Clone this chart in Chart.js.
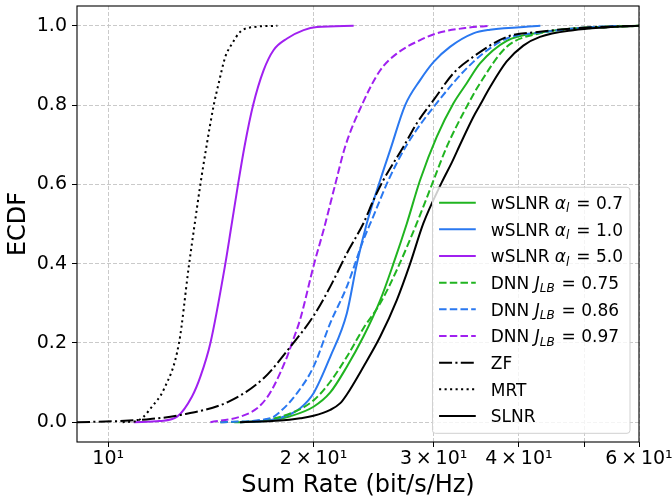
<!DOCTYPE html>
<html>
<head>
<meta charset="utf-8">
<script src="https://cdn.jsdelivr.net/npm/chart.js@4.4.1/dist/chart.umd.min.js"></script>
<style>
  html, body { margin: 0; padding: 0; background: #fff; }
  #wrap { width: 672px; height: 501px; }
</style>
</head>
<body>
<div id="wrap"><canvas id="ecdfChart" width="672" height="501"></canvas></div>
<script>
// ECDF of the sum rate, one curve per scheme
const seriesLabels = [
  'wSLNR α_l = 0.7', 'wSLNR α_l = 1.0', 'wSLNR α_l = 5.0',
  'DNN J_LB = 0.75', 'DNN J_LB = 0.86', 'DNN J_LB = 0.97',
  'ZF', 'MRT', 'SLNR'
];

const w07X = [15.3, 17.28, 18.49, 20.0, 21.16, 22.38, 23.67, 25.05, 26.19, 27.41, 28.66, 30.31, 32.06, 33.54, 35.08, 38.39, 42.95, 49.6, 60];
const w07Y = [0, 0.004, 0.015, 0.039, 0.075, 0.14, 0.216, 0.308, 0.4, 0.502, 0.611, 0.72, 0.804, 0.855, 0.905, 0.962, 0.983, 0.995, 1.0];

const w10X = [15.62, 17.28, 18.49, 19.12, 20.0, 21.16, 22.38, 23.15, 23.94, 25.05, 25.91, 27.25, 28.66, 30.0, 31.7, 34.3, 36.28, 43.0];
const w10Y = [0, 0.005, 0.02, 0.035, 0.073, 0.165, 0.275, 0.4, 0.502, 0.611, 0.687, 0.8, 0.863, 0.909, 0.947, 0.981, 0.99, 1.0];

const w50X = [10.9, 11.9, 12.62, 13.27, 13.65, 14.12, 14.85, 15.15, 15.5, 15.84, 16.31, 16.9, 17.48, 18.29, 19.34, 20.23, 22.9];
const w50Y = [0, 0.003, 0.014, 0.065, 0.115, 0.2, 0.4, 0.493, 0.6, 0.695, 0.8, 0.888, 0.939, 0.968, 0.989, 0.997, 1.0];

const d75X = [14.6, 16.71, 18.49, 20.0, 21.16, 22.38, 23.67, 25.05, 26.49, 28.34, 30.0, 31.36, 33.54, 35.08, 38.39, 42.95, 49.6, 60];
const d75Y = [0, 0.004, 0.022, 0.055, 0.102, 0.165, 0.237, 0.3, 0.384, 0.502, 0.611, 0.695, 0.796, 0.855, 0.947, 0.981, 0.993, 1.0];

const d86X = [14.6, 17.28, 17.88, 18.91, 20.0, 21.16, 22.38, 23.67, 24.48, 25.76, 27.41, 30.15, 34.3, 38.39, 42.95, 49.6, 56.25];
const d86Y = [0, 0.01, 0.027, 0.073, 0.14, 0.25, 0.342, 0.46, 0.52, 0.611, 0.7, 0.8, 0.909, 0.968, 0.983, 0.995, 1.0];

const d97X = [14.12, 15.62, 16.53, 17.09, 17.48, 18.29, 18.6, 19.12, 20.04, 20.69, 21.52, 22.25, 23.54, 25.05, 26.49, 28.66, 30.31, 33.54, 36.3];
const d97Y = [0, 0.014, 0.035, 0.062, 0.09, 0.165, 0.2, 0.26, 0.4, 0.485, 0.6, 0.695, 0.8, 0.888, 0.93, 0.964, 0.981, 0.995, 1.0];

const zfX = [9.0, 10.42, 11.53, 12.76, 15.02, 16.9, 18.49, 20.0, 21.16, 22.38, 23.67, 24.48, 25.32, 27.09, 28.34, 30.0, 32.06, 34.3, 38.39, 42.95, 49.6, 60];
const zfY = [0, 0.003, 0.008, 0.018, 0.052, 0.111, 0.19, 0.268, 0.342, 0.426, 0.502, 0.56, 0.611, 0.695, 0.754, 0.813, 0.88, 0.922, 0.972, 0.985, 0.995, 1.0];

const mrtX = [10.5, 11.0, 11.27, 11.6, 12.06, 12.7, 13.12, 13.39, 13.65, 13.93, 14.28, 14.52, 14.85, 15.19, 15.62, 16.34, 17.7];
const mrtY = [0, 0.003, 0.014, 0.04, 0.082, 0.2, 0.39, 0.5, 0.6, 0.695, 0.8, 0.855, 0.922, 0.955, 0.985, 0.997, 1.0];

const slnrX = [15.6, 17.88, 19.12, 20.0, 21.16, 21.89, 22.38, 23.67, 25.05, 26.49, 27.71, 28.98, 30.83, 31.89, 32.79, 34.3, 35.08, 36.28, 38.39, 40.6, 42.95, 48.05, 53.78, 60];
const slnrY = [0, 0.004, 0.01, 0.016, 0.031, 0.048, 0.07, 0.14, 0.216, 0.308, 0.4, 0.502, 0.605, 0.655, 0.7, 0.77, 0.8, 0.845, 0.91, 0.95, 0.972, 0.989, 0.996, 1.0];

const seriesX = [w07X, w10X, w50X, d75X, d86X, d97X, zfX, mrtX, slnrX];
const seriesY = [w07Y, w10Y, w50Y, d75Y, d86Y, d97Y, zfY, mrtY, slnrY];

// axis ticks
const xTickValues = [10, 20, 30, 40, 50, 60];
const xTickLabels = ['10¹', '2\u2009×\u200910¹', '3\u2009×\u200910¹', '4\u2009×\u200910¹', '', '6\u2009×\u200910¹'];
const yTickValues = [0, 0.2, 0.4, 0.6, 0.8, 1.0];

// styles
const FONT = "'DejaVu Sans', sans-serif";
const GREEN = '#20b420', BLUE = '#2a78f0', PURPLE = '#a020f0', BLACK = '#000000';
const lineColors = [GREEN, BLUE, PURPLE, GREEN, BLUE, PURPLE, BLACK, BLACK, BLACK];
const DASHED = [7.5, 3.2], DASHDOT = [13, 3.3, 2.1, 3.3], DOTTED = [2.1, 3.4];
const lineDashes = [[], [], [], DASHED, DASHED, DASHED, DASHDOT, DOTTED, []];

const datasets = seriesLabels.map((label, i) => ({
  label: label,
  data: seriesX[i].map((x, j) => ({ x: x, y: seriesY[i][j] })),
  borderColor: lineColors[i],
  backgroundColor: lineColors[i],
  borderWidth: 2,
  borderDash: lineDashes[i],
  borderCapStyle: 'butt',
  pointRadius: 0,
  fill: false,
  cubicInterpolationMode: 'monotone',
  order: seriesLabels.length - i   // later series on top, like matplotlib
}));

// split 'name X_sub rest' into plain / italic / subscript pieces
function labelParts(label) {
  const m = label.match(/^(.*?)(\S)_(\w+)(.*)$/);
  if (!m) return [{ text: label }];
  return [
    { text: m[1] },
    { text: m[2], italic: true },
    { text: m[3], italic: true, sub: true },
    { text: m[4] }
  ];
}

function partFont(p) {
  if (p.sub) return 'italic 12px ' + FONT;
  if (p.italic) return 'italic 17px ' + FONT;
  return '17px ' + FONT;
}

// black frame round the plot (all four spines)
const frame = {
  id: 'frame',
  afterDatasetsDraw(chart) {
    const { ctx, chartArea: a } = chart;
    ctx.save();
    ctx.strokeStyle = '#000';
    ctx.lineWidth = 1.1;
    ctx.strokeRect(a.left, a.top, a.right - a.left, a.bottom - a.top);
    ctx.restore();
  }
};

// legend drawn inside the plot, lower right
const innerLegend = {
  id: 'innerLegend',
  afterDraw(chart) {
    const { ctx, chartArea: a } = chart;
    const rowH = 26.67, padL = 6.6, handleLen = 36.7, gap = 15, padR = 8.5;
    ctx.save();
    let maxW = 0;
    const rows = chart.data.datasets.map(ds => {
      const parts = labelParts(ds.label);
      let w = 0;
      parts.forEach(p => { ctx.font = partFont(p); p.w = ctx.measureText(p.text).width; w += p.w; });
      maxW = Math.max(maxW, w);
      return { ds: ds, parts: parts };
    });
    const boxW = padL + handleLen + gap + maxW + padR;
    const boxH = rows.length * rowH + 6;
    const right = a.right - 9, bottom = a.bottom - 8.7;
    const left = right - boxW, top = bottom - boxH;

    ctx.beginPath();
    ctx.roundRect(left, top, boxW, boxH, 3);
    ctx.fillStyle = 'rgba(255,255,255,0.8)';
    ctx.fill();
    ctx.strokeStyle = '#d0d0d0';
    ctx.lineWidth = 1;
    ctx.stroke();

    rows.forEach((r, i) => {
      const y = top + 15.4 + i * rowH;
      ctx.beginPath();
      ctx.setLineDash(r.ds.borderDash || []);
      ctx.strokeStyle = r.ds.borderColor;
      ctx.lineWidth = r.ds.borderWidth;
      ctx.lineCap = 'butt';
      ctx.moveTo(left + padL, y);
      ctx.lineTo(left + padL + handleLen, y);
      ctx.stroke();
      ctx.setLineDash([]);

      let x = left + padL + handleLen + gap;
      ctx.fillStyle = '#000';
      ctx.textBaseline = 'alphabetic';
      ctx.textAlign = 'left';
      r.parts.forEach(p => {
        ctx.font = partFont(p);
        ctx.fillText(p.text, x, y + 6.2 + (p.sub ? 3.5 : 0));
        x += p.w + (p.sub ? 1.5 : 0);
      });
    });
    ctx.restore();
  }
};

const ctx = document.getElementById('ecdfChart').getContext('2d');
const ecdfChart = new Chart(ctx, {
  type: 'line',
  data: { datasets: datasets },
  options: {
    responsive: false,
    animation: false,
    devicePixelRatio: 1,
    layout: { padding: { left: 0, right: 33, top: 6, bottom: 0 } },
    plugins: {
      legend: { display: false },
      tooltip: { enabled: false }
    },
    scales: {
      x: {
        type: 'logarithmic',
        min: 9,
        max: 60,
        afterBuildTicks: s => { s.ticks = xTickValues.map(v => ({ value: v })); },
        afterFit: s => { s.height = 59; s.paddingLeft = 0; s.paddingRight = 0; },
        ticks: {
          callback: v => { const k = xTickValues.indexOf(v); return k >= 0 ? xTickLabels[k] : ''; },
          font: { family: FONT, size: 19 },
          color: '#000',
          padding: 1,
          maxRotation: 0,
          autoSkip: false
        },
        grid: { color: '#c4c4c4', lineWidth: 0.9, tickColor: '#000', tickLength: 5, tickWidth: 1 },
        border: { display: false, dash: [4, 2] },
        title: {
          display: true,
          text: 'Sum Rate (bit/s/Hz)',
          font: { family: FONT, size: 24 },
          color: '#000',
          padding: { top: 0, bottom: 1 }
        }
      },
      y: {
        type: 'linear',
        min: -0.05,
        max: 1.05,
        afterBuildTicks: s => { s.ticks = yTickValues.map(v => ({ value: v })); },
        afterFit: s => { s.width = 77; s.paddingTop = 0; s.paddingBottom = 0; },
        ticks: {
          callback: v => Number(v).toFixed(1),
          font: { family: FONT, size: 19 },
          color: '#000',
          padding: 5
        },
        grid: { color: '#c4c4c4', lineWidth: 0.9, tickColor: '#000', tickLength: 5, tickWidth: 1 },
        border: { display: false, dash: [4, 2] },
        title: {
          display: true,
          text: 'ECDF',
          font: { family: FONT, size: 24 },
          color: '#000',
          padding: { top: 4, bottom: 0 }
        }
      }
    }
  },
  plugins: [frame, innerLegend]
});
</script>
</body>
</html>
